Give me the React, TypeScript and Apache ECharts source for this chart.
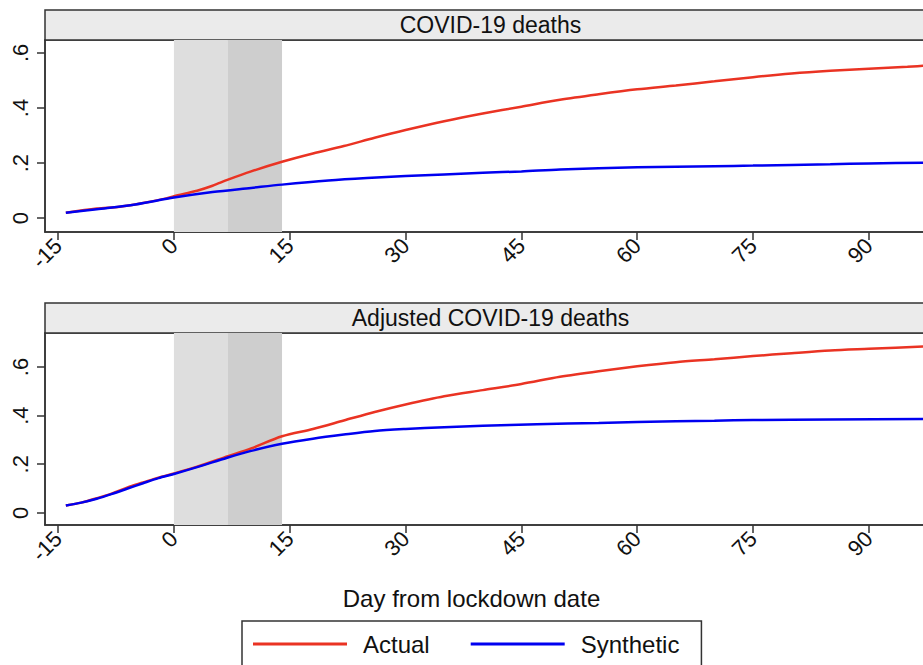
import React, { useEffect, useRef } from "react";
import * as echarts from "echarts";

const xTicks = [-15, 0, 15, 30, 45, 60, 75, 90];
const yTicks = [0, 0.2, 0.4, 0.6];
const panelTitles = ["COVID-19 deaths", "Adjusted COVID-19 deaths"];
const seriesNames = ["Actual", "Synthetic"];
const xAxisTitle = "Day from lockdown date";
const lightBand = [0, 7];
const darkBand = [7, 14];

const deathsActual: [number, number][] = [
  [-14, 0.02], [-10, 0.035], [-7, 0.042], [-4, 0.055], [-1, 0.072], [0, 0.08],
  [3, 0.1], [5, 0.118], [7, 0.14], [10, 0.17], [14, 0.205], [18, 0.235],
  [22, 0.262], [26, 0.292], [30, 0.32], [35, 0.352], [40, 0.38], [45, 0.405],
  [50, 0.43], [55, 0.45], [60, 0.468], [65, 0.482], [70, 0.497], [75, 0.512],
  [80, 0.525], [85, 0.535], [90, 0.543], [95, 0.55], [98, 0.555],
];
const deathsSynthetic: [number, number][] = [
  [-14, 0.02], [-10, 0.033], [-5, 0.05], [0, 0.075], [5, 0.095], [10, 0.11],
  [14, 0.122], [20, 0.137], [25, 0.146], [30, 0.153], [40, 0.165], [45, 0.17],
  [50, 0.177], [60, 0.185], [70, 0.189], [75, 0.191], [85, 0.196], [90, 0.199],
  [98, 0.202],
];
const adjActual: [number, number][] = [
  [-14, 0.03], [-12, 0.042], [-10, 0.06], [-8, 0.08], [-6, 0.105], [-4, 0.125],
  [-2, 0.145], [0, 0.162], [3, 0.19], [7, 0.233], [10, 0.265], [14, 0.315],
  [18, 0.345], [22, 0.38], [26, 0.415], [30, 0.446], [35, 0.48], [40, 0.505],
  [45, 0.53], [50, 0.56], [55, 0.583], [60, 0.603], [65, 0.62], [70, 0.632],
  [75, 0.645], [80, 0.657], [85, 0.668], [90, 0.675], [98, 0.686],
];
const adjSynthetic: [number, number][] = [
  [-14, 0.03], [-12, 0.042], [-10, 0.058], [-8, 0.078], [-6, 0.1], [-4, 0.122],
  [-2, 0.143], [0, 0.16], [3, 0.188], [7, 0.228], [10, 0.255], [14, 0.284],
  [18, 0.305], [22, 0.322], [26, 0.337], [30, 0.345], [35, 0.352], [40, 0.358],
  [47, 0.365], [55, 0.37], [60, 0.374], [70, 0.379], [75, 0.382], [85, 0.384],
  [98, 0.386],
];

const FONT = "'Liberation Sans', Arial, Helvetica, sans-serif";
const RED = "#ea3323";
const BLUE = "#0000f0";
const AXIS = "#333333";

export default function App() {
  const ref = useRef<HTMLDivElement>(null);
  useEffect(() => {
    if (!ref.current) return;
    const chart = echarts.init(ref.current, undefined, { renderer: "svg" });
    const gridLeft = 45;
    const gridWidth = 891;
    const grids = [
      { left: gridLeft, top: 40, width: gridWidth, height: 192 },
      { left: gridLeft, top: 333, width: gridWidth, height: 192 },
    ];
    const yRanges = [
      [-0.05, 0.647],
      [-0.05, 0.74],
    ];
    const xAxes = grids.map((_, i) => ({
      type: "value",
      gridIndex: i,
      min: -16.7,
      max: 98.7,
      splitLine: { show: false },
      axisLine: { show: true, onZero: false, lineStyle: { color: AXIS, width: 1.5 } },
      axisTick: { show: true, length: 8, customValues: xTicks, lineStyle: { color: AXIS, width: 1.5 } },
      axisLabel: {
        customValues: xTicks,
        rotate: 45,
        margin: 10,
        fontSize: 22,
        color: "#111",
        fontFamily: FONT,
      },
    }));
    const yAxes = grids.map((_, i) => ({
      type: "value",
      gridIndex: i,
      min: yRanges[i][0],
      max: yRanges[i][1],
      splitLine: { show: false },
      axisLine: { show: true, onZero: false, lineStyle: { color: AXIS, width: 1.5 } },
      axisTick: { show: true, length: 8, customValues: yTicks, lineStyle: { color: AXIS, width: 1.5 } },
      axisLabel: {
        customValues: yTicks,
        rotate: 90,
        margin: 14,
        fontSize: 22,
        color: "#111",
        fontFamily: FONT,
        formatter: (v: number) => (v === 0 ? "0" : v.toFixed(1).replace(/^0\./, ".")),
      },
    }));
    const shade = {
      silent: true,
      data: [
        [{ xAxis: lightBand[0], itemStyle: { color: "#dedede" } }, { xAxis: lightBand[1] }],
        [{ xAxis: darkBand[0], itemStyle: { color: "#cecece" } }, { xAxis: darkBand[1] }],
      ],
    };
    const mk = (name: string, data: [number, number][], idx: number, color: string, withShade: boolean) => ({
      type: "line",
      name,
      data,
      xAxisIndex: idx,
      yAxisIndex: idx,
      symbol: "none",
      smooth: 0.3,
      lineStyle: { color, width: 2.5 },
      itemStyle: { color },
      markArea: withShade ? shade : undefined,
      z: 3,
    });
    const graphic: any[] = [];
    grids.forEach((g, i) => {
      graphic.push({
        type: "rect",
        shape: { x: g.left, y: g.top - 30, width: g.width, height: 30 },
        style: { fill: "#ebebeb", stroke: AXIS, lineWidth: 1.5 },
      });
      graphic.push({
        type: "text",
        x: g.left + g.width / 2,
        y: g.top - 15,
        style: {
          text: panelTitles[i],
          fontSize: 23,
          fontFamily: FONT,
          fill: "#111",
          textAlign: "center",
          textVerticalAlign: "middle",
        },
      });
    });
    graphic.push({
      type: "text",
      x: 471.5,
      y: 598,
      style: {
        text: xAxisTitle,
        fontSize: 24,
        fontFamily: FONT,
        fill: "#111",
        textAlign: "center",
        textVerticalAlign: "middle",
      },
    });
    chart.setOption({
      animation: false,
      grid: grids.map((g) => ({ ...g, show: true, borderColor: AXIS, borderWidth: 1.5, backgroundColor: "#fff" })),
      xAxis: xAxes,
      yAxis: yAxes,
      legend: {
        data: seriesNames,
        left: 242,
        top: 621,
        icon: "rect",
        itemWidth: 94,
        itemHeight: 3,
        itemGap: 41,
        padding: [11, 22, 40, 11],
        borderColor: AXIS,
        borderWidth: 1.5,
        textStyle: { fontSize: 24, color: "#111", fontFamily: FONT, padding: [0, 0, 0, 11] },
      },
      graphic,
      series: [
        mk(seriesNames[0], deathsActual, 0, RED, true),
        mk(seriesNames[1], deathsSynthetic, 0, BLUE, false),
        mk(seriesNames[0], adjActual, 1, RED, true),
        mk(seriesNames[1], adjSynthetic, 1, BLUE, false),
      ],
    });
    return () => chart.dispose();
  }, []);
  return (
    <div style={{ position: "fixed", left: 0, top: 0, width: 923, height: 665, overflow: "hidden", background: "#fff" }}>
      <div ref={ref} style={{ width: 960, height: 665 }} />
    </div>
  );
}
